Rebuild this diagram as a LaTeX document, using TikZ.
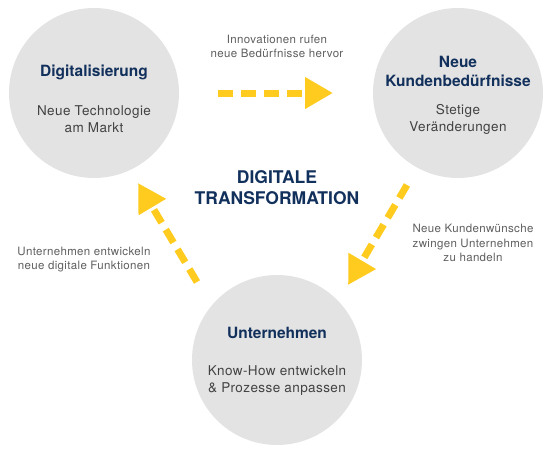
\documentclass[tikz,border=0pt]{standalone}
\usepackage{fontspec}
\setmainfont{TeX Gyre Heros}
\usepackage{tikz}
\usetikzlibrary{arrows.meta, positioning, calc}
\definecolor{bubbleGray}{HTML}{E3E3E3}
\definecolor{navyText}{HTML}{12305C}
\definecolor{noteGray}{HTML}{5E5E5E}
\definecolor{flowYellow}{HTML}{FECB1E}

\begin{document}
\begin{tikzpicture}[x=1pt, y=-1pt,
  bubble/.style={circle, fill=bubbleGray, minimum size=170pt, inner sep=0pt},
  heading/.style={align=center, text=navyText, font=\fontsize{15.5}{19}\selectfont\bfseries},
  sub/.style={align=center, text=noteGray!70!black, font=\fontsize{13.5}{17}\selectfont\addfontfeatures{LetterSpace=3}},
  note/.style={align=center, text=noteGray, font=\fontsize{11.5}{14.5}\selectfont\addfontfeatures{LetterSpace=3}},
  flow/.style={line width=7pt, draw=flowYellow, dash pattern=on 15pt off 8pt, -{Triangle[length=28pt, width=30pt, fill=flowYellow]}},
]
  \useasboundingbox (0,0) rectangle (550,450);

  % Kreise
  \node[bubble] (digi) at (94, 93)   {};
  \node[bubble] (kunde) at (458, 93) {};
  \node[bubble] (firma) at (277, 360) {};

  % Texte in den Kreisen
  \node[heading] (digiT) at (94, 72)    {Digitalisierung};
  \node[sub]     (digiS) at (94, 119)   {Neue Technologie\\am Markt};
  \node[heading] (kundeT) at (458, 71.5) {Neue\\Kundenbedürfnisse};
  \node[sub]     (kundeS) at (458, 119)  {Stetige\\Veränderungen};
  \node[heading] (firmaT) at (277, 333)  {Unternehmen};
  \node[sub]     (firmaS) at (277, 381)  {Know-How entwickeln\\\& Prozesse anpassen};

  % Mitte
  \node[align=center, text=navyText, font=\fontsize{17.5}{21}\selectfont\bfseries] (mitte) at (277, 187.5) {DIGITALE\\TRANSFORMATION};

  % Pfeile
  \coordinate (topA) at (218, 93);
  \coordinate (topB) at (333, 93);
  \coordinate (rightA) at (407, 185);
  \coordinate (rightB) at (348, 285);
  \coordinate (leftA) at (197, 282);
  \coordinate (leftB) at (138, 183);
  \draw[flow] (topA) -- (topB);
  \draw[flow] (rightA) -- (rightB);
  \draw[flow] (leftA) -- (leftB);

  % Beschriftungen
  \node[note] (topN) at (277, 46.5)   {Innovationen rufen\\neue Bedürfnisse hervor};
  \node[note] (rightN) at (473, 243)  {Neue Kundenwünsche\\zwingen Unternehmen\\zu handeln};
  \node[note] (leftN) at (84, 259.5)  {Unternehmen entwickeln\\neue digitale Funktionen};
\end{tikzpicture}
\end{document}
